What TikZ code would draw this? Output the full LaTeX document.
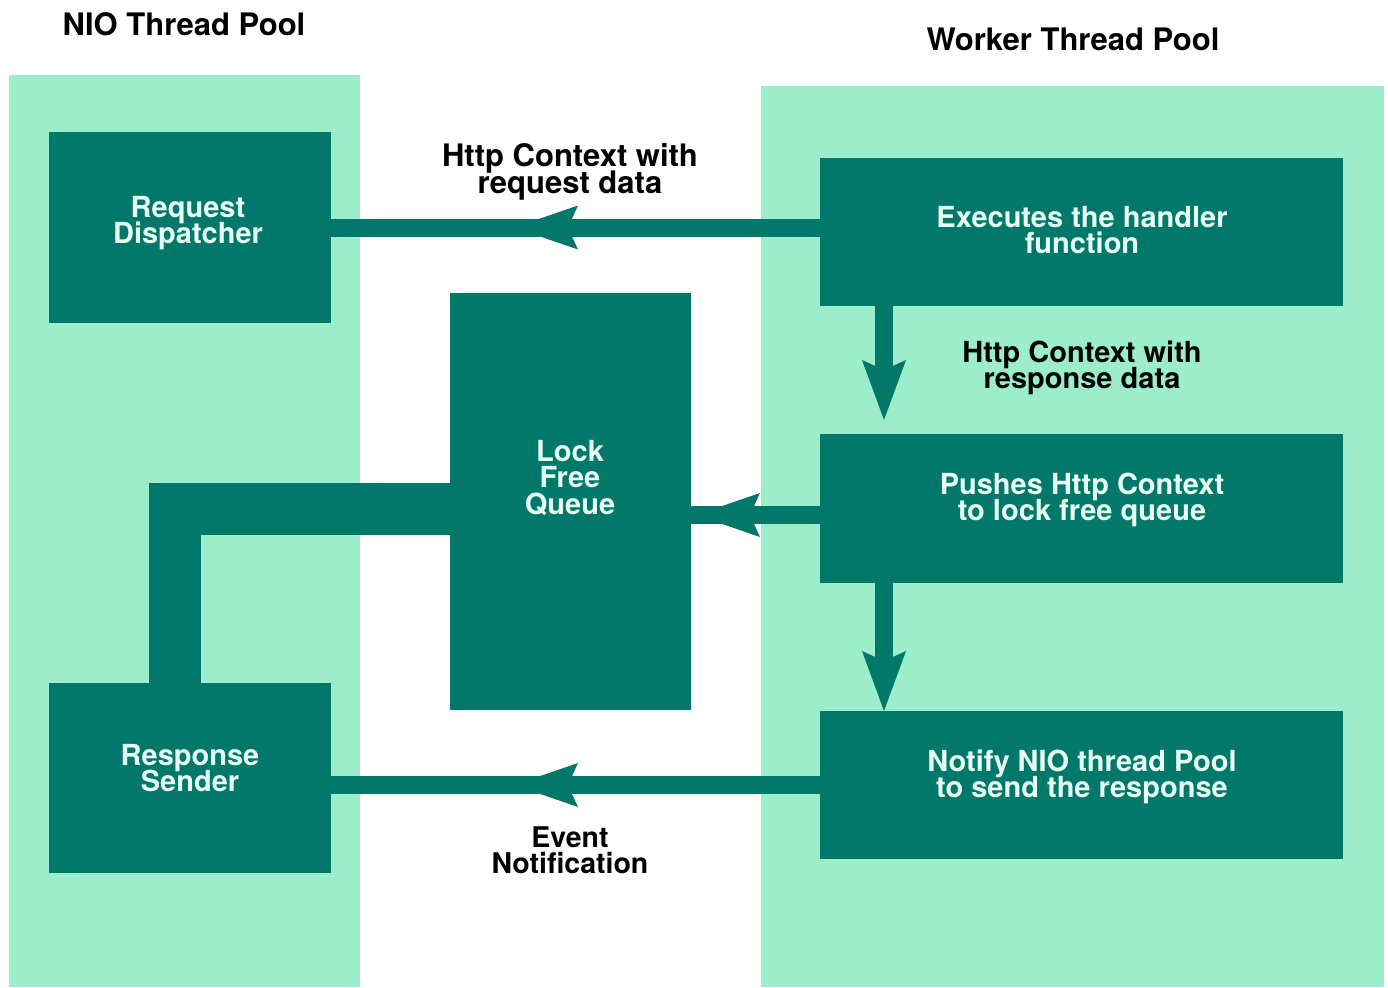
\documentclass[tikz,border=0pt]{standalone}
\usepackage{fontspec}
\setmainfont{TeX Gyre Heros}
\usetikzlibrary{arrows.meta,decorations.markings}
\definecolor{panelgreen}{HTML}{9CEECA}
\definecolor{darkteal}{HTML}{02786A}
\definecolor{boxtext}{HTML}{E8FFF4}
\newcommand\mlines[1]{\vtop{\lineskiplimit=-100pt\halign{\hfil##\hfil\cr#1\crcr}}}
\begin{document}
\begin{tikzpicture}[x=1pt,y=-1pt,
  panelbox/.style={fill=panelgreen, draw=none, inner sep=0pt, outer sep=0pt},
  tealbox/.style={fill=darkteal, draw=none, inner sep=0pt, outer sep=0pt},
  boxtxt/.style={anchor=base, inner sep=0pt, text=boxtext, font=\bfseries\fontsize{29}{26.5}\selectfont},
  lbl/.style={anchor=base, inner sep=0pt, text=black, font=\bfseries\fontsize{#1}{26.5}\selectfont},
  conn/.style={draw=darkteal, line width=18pt},
  band/.style={draw=darkteal, line width=52pt},
  hhead/.tip={Stealth[length=64pt,width=44pt,inset=10pt,line width=0pt]},
  vhead/.tip={Stealth[length=60pt,width=44pt,inset=10pt,line width=0pt]},
  midhead/.style={postaction={decorate}, decoration={markings, mark=at position #1 with {\arrow{hhead}}}}
]
\useasboundingbox (0,0) rectangle (1388,987);
\fill[white] (0,0) rectangle (1388,987);
% pools
\node[panelbox, minimum width=351pt, minimum height=912pt] (nio) at (184.5,531) {};
\node[panelbox, minimum width=623pt, minimum height=901pt] (worker) at (1072.5,536.5) {};
% boxes
\node[tealbox, minimum width=282pt, minimum height=191pt] (rd) at (190,227.5) {};
\node[tealbox, minimum width=282pt, minimum height=190pt] (sender) at (190,778) {};
\node[tealbox, minimum width=241pt, minimum height=417pt] (queue) at (570.5,501.5) {};
\node[tealbox, minimum width=523pt, minimum height=148pt] (exec) at (1081.5,232) {};
\node[tealbox, minimum width=523pt, minimum height=149pt] (pushes) at (1081.5,508.5) {};
\node[tealbox, minimum width=523pt, minimum height=148pt] (notify) at (1081.5,785) {};
% connectors
\draw[band] ([yshift=-7.5pt]queue.west) -| ([xshift=-15pt]sender.north);
\draw[conn, midhead=306pt] (exec.west |- rd.east) -- (rd.east);
\draw[conn, midhead=124pt] ([yshift=-6.5pt]pushes.west) -- ([yshift=-6.5pt]pushes.west -| queue.east);
\draw[conn, midhead=306pt] (notify.west) -- (notify.west -| sender.east);
\draw[conn, -{vhead}, shorten >=14pt] ([xshift=64pt]exec.south west) -- ([xshift=64pt]pushes.north west);
\draw[conn, -{vhead}] ([xshift=64pt]pushes.south west) -- ([xshift=64pt]notify.north west);
% box texts
\node[boxtxt] (rdT) at (188,217) {\mlines{Request\cr Dispatcher}};
\node[boxtxt] (senderT) at (190,765) {\mlines{Response\cr Sender}};
\node[boxtxt] (queueT) at (570,461) {\mlines{Lock\cr Free\cr Queue}};
\node[boxtxt] (execT) at (1082,227) {\mlines{Executes the handler\cr function}};
\node[boxtxt] (pushT) at (1082,494) {\mlines{Pushes Http Context\cr to lock free queue}};
\node[boxtxt] (notifyT) at (1082,771) {\mlines{Notify NIO thread Pool\cr to send the response}};
% labels
\node[lbl=31] (reqL) at (570,167) {\mlines{Http Context with\cr request data}};
\node[lbl=29] (respL) at (1082,362) {\mlines{Http Context with\cr response data}};
\node[lbl=28.5] (evL) at (570,847) {\mlines{Event\cr Notification}};
\node[lbl=31] (nioT) at (184,36) {NIO Thread Pool};
\node[lbl=31] (workerT) at (1073,51) {Worker Thread Pool};
\end{tikzpicture}
\end{document}
